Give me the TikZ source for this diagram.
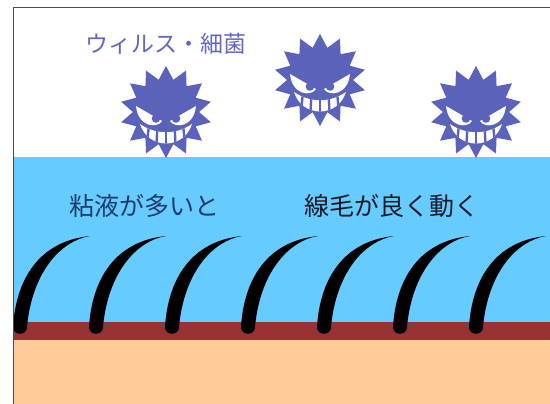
\documentclass[tikz,border=0pt]{standalone}
\usepackage{fontspec}
\newfontfamily\jpfont{Noto Sans CJK JP}
\definecolor{mucus}{HTML}{66CCFF}
\definecolor{membrane}{HTML}{993333}
\definecolor{tissue}{HTML}{FFCC99}
\definecolor{germ}{HTML}{5A62BA}
\definecolor{titlecol}{HTML}{6266C4}
\definecolor{labelnavy}{HTML}{1F3B6A}
\definecolor{labeldark}{HTML}{1A1A26}
\definecolor{framecol}{HTML}{4A4A4A}
\tikzset{
  % spiky germ with an angry grin, drawn around its centre
  germpic/.pic={
    \fill[germ] (90:46)
      \foreach \i in {1,...,27}{ -- ({90+\i*360/28}:{mod(\i,2)==0 ? 46 : 33}) } -- cycle;
    % eyes
    \fill[white] (-30,-6) -- (-4,9) .. controls (-9,17) and (-28,15) .. cycle;
    \fill[white] (30,-6) -- (4,9) .. controls (9,17) and (28,15) .. cycle;
    \fill[germ] (-10,6.5) circle (4.3);
    \fill[germ] (10,6.5) circle (4.3);
    % grin with teeth
    \begin{scope}
      \clip (-26,12) .. controls (-10,23) and (10,23) .. (26,12)
            .. controls (18,38) and (-18,38) .. cycle;
      \fill[white] (-30,5) rectangle (30,40);
      \foreach \t in {-17,-8.5,0,8.5,17}
        \draw[germ, line width=2.4] (\t,12) -- ({\t*1.15},38);
    \end{scope}
  },
  % a single curved cilium rooted at its base point
  ciliumpic/.pic={
    \fill[black] (-7,-6) .. controls (-4,-55) and (20,-92) .. (70,-97)
      .. controls (40,-92) and (12,-60) .. (7,-6)
      .. controls (7,3) and (-7,3) .. cycle;
  },
  label/.style={inner sep=0pt, font=\jpfont\fontsize{25}{30}\selectfont}
}
\begin{document}
\begin{tikzpicture}[x=1pt,y=-1pt]
  \useasboundingbox (0,0) rectangle (550,404);
  \fill[white] (0,0) rectangle (550,404);
  % layers: mucus, membrane, tissue
  \fill[mucus] (13.5,157) rectangle (550,322);
  \fill[membrane] (13.5,322) rectangle (550,340);
  \fill[tissue] (13.5,340) rectangle (550,404);
  % cilia, evenly spaced along the membrane
  \foreach \bx in {20,96,172,248,324,400,476}
    \pic at (\bx,333) {ciliumpic};
  % frame
  \draw[framecol, line width=1.4] (13.5,404) -- (13.5,7.5) -- (550,7.5);
  % germs
  \pic at (166,112) {germpic};
  \pic at (320,80) {germpic};
  \pic at (476,112) {germpic};
  % labels
  \node[inner sep=0pt, font=\jpfont\fontsize{23}{28}\selectfont, text=titlecol] (title) at (166,44) {ウィルス・細菌};
  \node[label, text=labelnavy] (mucuslabel) at (145,206) {粘液が多いと};
  \node[label, text=labeldark] (cilialabel) at (392,206) {線毛が良く動く};
\end{tikzpicture}
\end{document}
